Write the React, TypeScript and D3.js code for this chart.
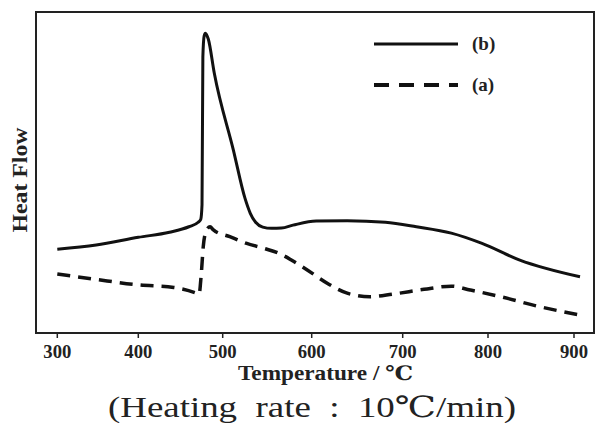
import React from "react";
import * as d3 from "d3";

// Temperatures (°C) and heat flow (arbitrary units, 0–100)
const tempB = [300, 348, 400, 437, 460, 471, 474, 475.5, 476.5, 478, 479.5, 483, 490, 512, 525, 531, 537, 545, 555, 566, 579, 605, 639, 681, 716, 757, 793, 837, 907];
const flowB = [26.1, 27.4, 29.8, 31.4, 33.1, 34.5, 35.4, 40, 86, 92.5, 93.4, 91.5, 81, 57, 42, 37.3, 34.5, 33, 32.6, 32.7, 33.6, 34.9, 35.0, 34.5, 33.1, 31.1, 27.9, 22.7, 17.5];

const tempA = [300, 348, 400, 442, 469, 472, 474.5, 477, 480, 485, 489, 508, 527, 546, 565, 578, 592, 617, 639, 664, 689, 725, 757, 779, 815, 860, 907];
const flowA = [18.4, 16.7, 15.0, 14.2, 12.4, 12.1, 18, 27, 31.5, 33.1, 32.1, 30.0, 27.9, 26.4, 24.6, 22.6, 20.2, 15.5, 12.4, 11.3, 12.1, 13.6, 14.6, 13.4, 11.3, 8.2, 5.6];

const xTicks = [300, 400, 500, 600, 700, 800, 900];
const legendLabels = ["(b)", "(a)"];
const xLabel = "Temperature / \u2103";
const yLabel = "Heat Flow";
const caption = "(Heating  rate  :  10\u2103/min)";

// layout
const W = 605, H = 423;
const frame = { left: 36, right: 594, top: 12, bottom: 333 };
const tickPx = [57.3, 138.3, 222.7, 311.7, 402.7, 488, 574];

const serif = "'Liberation Serif', 'Times New Roman', 'DejaVu Serif', 'Noto Sans CJK KR', serif";

export default function App() {
  const x = d3.scaleLinear().domain(xTicks).range(tickPx);
  const y = d3.scaleLinear().domain([0, 100]).range([frame.bottom, frame.top]);
  const line = d3
    .line<[number, number]>()
    .x((d) => x(d[0]))
    .y((d) => y(d[1]))
    .curve(d3.curveMonotoneX);
  const dataB: [number, number][] = tempB.map((t, i) => [t, flowB[i]]);
  const dataA: [number, number][] = tempA.map((t, i) => [t, flowA[i]]);

  return (
    <svg width={W} height={H} style={{ position: "absolute", left: 0, top: 0, background: "#fff" }}>
      <rect x={0} y={0} width={W} height={H} fill="#fff" />
      <rect
        x={frame.left}
        y={frame.top}
        width={frame.right - frame.left}
        height={frame.bottom - frame.top}
        fill="none"
        stroke="#222"
        strokeWidth={2}
      />
      {xTicks.map((t) => (
        <g key={t}>
          <line x1={x(t)} x2={x(t)} y1={frame.bottom} y2={frame.bottom + 5} stroke="#222" strokeWidth={1.5} />
          <text
            x={x(t)}
            y={358}
            textAnchor="middle"
            fontFamily={serif}
            fontWeight="bold"
            fontSize={19}
            fill="#222"
            textLength={28}
            lengthAdjust="spacingAndGlyphs"
          >
            {t}
          </text>
        </g>
      ))}
      <path d={line(dataB) || ""} fill="none" stroke="#111" strokeWidth={3} strokeLinejoin="round" />
      <path d={line(dataA) || ""} fill="none" stroke="#111" strokeWidth={3.5} strokeDasharray="13,8" />

      {/* legend */}
      <line x1={374} x2={458} y1={44} y2={44} stroke="#111" strokeWidth={3} />
      <text x={472} y={50} fontFamily={serif} fontWeight="bold" fontSize={19} fill="#222">
        {legendLabels[0]}
      </text>
      <line x1={374} x2={458} y1={85} y2={85} stroke="#111" strokeWidth={4} strokeDasharray="15,10" />
      <text x={472} y={91} fontFamily={serif} fontWeight="bold" fontSize={19} fill="#222">
        {legendLabels[1]}
      </text>

      <text
        transform={`translate(27,180) rotate(-90)`}
        textAnchor="middle"
        fontFamily={serif}
        fontWeight="bold"
        fontSize={22}
        fill="#222"
        textLength={105}
        lengthAdjust="spacingAndGlyphs"
      >
        {yLabel}
      </text>
      <text
        x={238}
        y={380}
        fontFamily={serif}
        fontWeight="bold"
        fontSize={20}
        fill="#222"
        textLength={175}
        lengthAdjust="spacingAndGlyphs"
      >
        {xLabel}
      </text>
      <text
        x={108}
        y={417}
        fontFamily={serif}
        fontSize={29}
        fill="#222"
        textLength={408}
        lengthAdjust="spacingAndGlyphs"
        style={{ whiteSpace: "pre" }}
      >
        {caption}
      </text>
    </svg>
  );
}
